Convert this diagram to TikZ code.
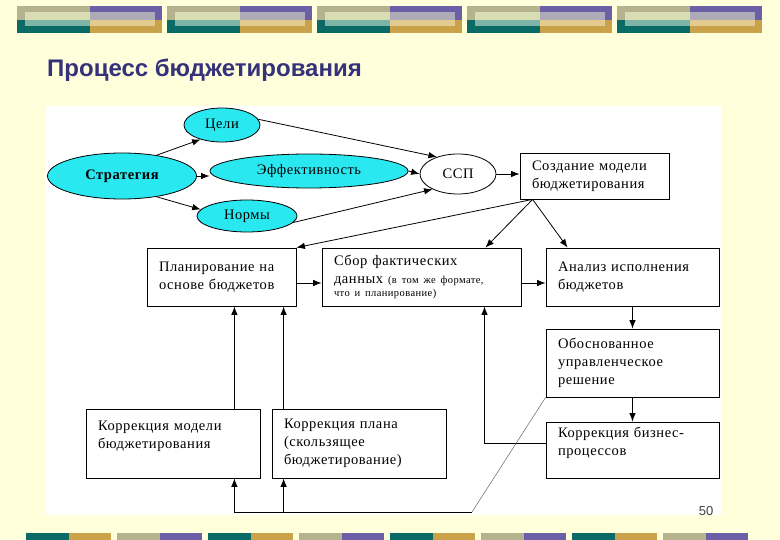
\documentclass[tikz,border=0pt]{standalone}
\usepackage{fontspec}
\setmainfont{Liberation Serif}
\newfontfamily\diagfont[LetterSpace=4]{Liberation Serif}
\newfontfamily\titlefont{Liberation Sans}
\usetikzlibrary{arrows.meta,shapes.geometric}
\definecolor{bgyellow}{HTML}{FFFFDC}
\definecolor{ovalcyan}{HTML}{2AE8F0}
\definecolor{titleblue}{HTML}{35327A}
\definecolor{decosage}{HTML}{B5B38E}
\definecolor{decoteal}{HTML}{0A6B66}
\definecolor{decopurple}{HTML}{6B60A8}
\definecolor{decogold}{HTML}{C9A24A}
\definecolor{decopale}{HTML}{D9DDB3}
\definecolor{decolteal}{HTML}{7FB5A6}
\definecolor{decolav}{HTML}{ADABB8}
\definecolor{decolgold}{HTML}{E3CB90}
\tikzset{
  oval/.style={ellipse,draw,fill=ovalcyan,inner sep=0pt,line width=0.8pt},
  box/.style={draw,rectangle,align=left,inner xsep=12pt,inner ysep=0pt,line width=0.8pt,fill=white},
  arr/.style={-{Latex[length=8.5pt,width=6.5pt]},line width=0.8pt},
}
\begin{document}
\begin{tikzpicture}[x=1pt,y=-1pt,font=\diagfont\fontsize{14.5}{18}\selectfont]
  \useasboundingbox (0,0) rectangle (780,540);
  \fill[bgyellow] (0,0) rectangle (780,540); % page
  % stripes on top
  \foreach \i in {0,...,4}{
    \pgfmathsetmacro\xo{17+150*\i}
    \fill[decosage] (\xo,6) rectangle ++(73,14);
    \fill[decoteal] (\xo,20) rectangle ++(73,13);
    \fill[decopurple] (\xo+73,6) rectangle ++(72,14);
    \fill[decogold] (\xo+73,20) rectangle ++(72,13);
    \fill[decopale] (\xo+8,12) rectangle ++(65,8);
    \fill[decolteal] (\xo+8,20) rectangle ++(65,6);
    \fill[decolav] (\xo+73,12) rectangle ++(65,8);
    \fill[decolgold] (\xo+73,20) rectangle ++(65,6);
  }
  % stripes at the bottom
  \foreach \i/\ca/\cb in {0/decoteal/decogold,1/decosage/decopurple,2/decoteal/decogold,3/decosage/decopurple,
                          4/decoteal/decogold,5/decosage/decopurple,6/decoteal/decogold,7/decosage/decopurple}{
    \pgfmathsetmacro\xo{26+91*\i}
    \fill[\ca] (\xo,533) rectangle ++(43,8);
    \fill[\cb] (\xo+43,533) rectangle ++(42,8);
  }
  \node[font=\titlefont\bfseries\fontsize{24}{28}\selectfont,text=titleblue,anchor=base west,inner sep=0pt] (title) at (47,77) {Процесс бюджетирования};
  \fill[white] (46,106) rectangle (721,515); % panel

  % ovals
  \node[oval,minimum width=149pt,minimum height=46pt,font=\diagfont\bfseries\fontsize{14.5}{18}\selectfont] (strat) at (122,176) {Стратегия};
  \node[oval,minimum width=76pt,minimum height=34pt] (tseli) at (222,125) {Цели};
  \node[oval,minimum width=198pt,minimum height=34pt] (eff) at (309,171) {Эффективность};
  \node[oval,minimum width=100pt,minimum height=32pt] (norm) at (247,216) {Нормы};
  \node[oval,fill=white,minimum width=76pt,minimum height=40pt] (ssp) at (458,174) {ССП};

  % boxes
  \node[box,minimum width=149pt,minimum height=46pt,text width=125pt] (model) at (594.5,176) {Создание~модели\\бюджетирования};
  \node[box,minimum width=149pt,minimum height=58pt,text width=125pt] (plan) at (221.5,277) {Планирование~на\\основе~бюджетов};
  \node[box,minimum width=199pt,minimum height=58pt,text width=175pt] (sbor) at (421.5,277)
    {Сбор~фактических\\данных~{\fontsize{10.5}{12}\selectfont(в~том~же~формате,}\\[-5pt]{\fontsize{10.5}{12}\selectfont что~и~планирование)}};
  \node[box,minimum width=173pt,minimum height=58pt,text width=149pt] (anal) at (632.5,277) {Анализ~исполнения\\бюджетов};
  \node[box,minimum width=173pt,minimum height=68pt,text width=149pt] (obos) at (632.5,363) {Обоснованное\\управленческое\\решение};
  \node[box,minimum width=173pt,minimum height=56pt,text width=149pt] (korbiz) at (632.5,450) {Коррекция~бизнес-\\процессов\\\mbox{}};
  \node[box,minimum width=174pt,minimum height=69pt,text width=150pt] (kormod) at (173,443.5) {Коррекция~модели\\бюджетирования\\\mbox{}};
  \node[box,minimum width=174pt,minimum height=69pt,text width=150pt] (korplan) at (359,443.5) {Коррекция~плана\\(скользящее\\бюджетирование)};
  \node[font=\titlefont\fontsize{13}{15}\selectfont,text=black!75] (pagenum) at (706,511) {50};

  % arrows from the strategy
  \draw[arr] (strat.31) -- (tseli.214);
  \draw[arr] (strat.east) -- (strat.east -| eff.west);
  \draw[arr] (strat.-31) -- (norm.172);
  \draw[arr] (tseli.9) -- (ssp.141);
  \draw[arr] (eff.east) -- (ssp.west);
  \draw[arr] (norm.-8) -- (ssp.211);
  \draw[arr] (ssp.east) -- (ssp.east -| model.west);

  \coordinate (split) at ([xshift=13pt]model.south west);
  \draw[arr] (split) -- (plan.north east);
  \draw[arr] (split) -- ([xshift=-36pt]sbor.north east);
  \draw[arr] (split) -- ([xshift=22pt]anal.north west);

  \draw[arr] ([yshift=-6pt]plan.east) -- ([yshift=-6pt]sbor.west);
  \draw[arr] ([yshift=-6pt]sbor.east) -- ([yshift=-6pt]anal.west);
  \draw[arr] (anal.south) -- (obos.north);
  \draw[arr] (obos.south) -- (korbiz.north);
  \draw[arr] ([yshift=7pt]korbiz.west) -| ([xshift=63pt]sbor.south); % back to the data

  % corrections
  \coordinate (turn) at (472,512);
  \draw[line width=0.5pt,black!60] (obos.south west) -- (turn);
  \draw[arr] (turn) -| ([xshift=-26pt]kormod.south east);
  \draw[arr] ([xshift=12pt]korplan.south west |- turn) -- ([xshift=12pt]korplan.south west);
  \draw[arr] ([xshift=-26pt]kormod.north east) -- ([xshift=-26pt]kormod.north east |- plan.south);
  \draw[arr] ([xshift=12pt]korplan.north west) -- ([xshift=12pt]korplan.north west |- plan.south);
\end{tikzpicture}
\end{document}
